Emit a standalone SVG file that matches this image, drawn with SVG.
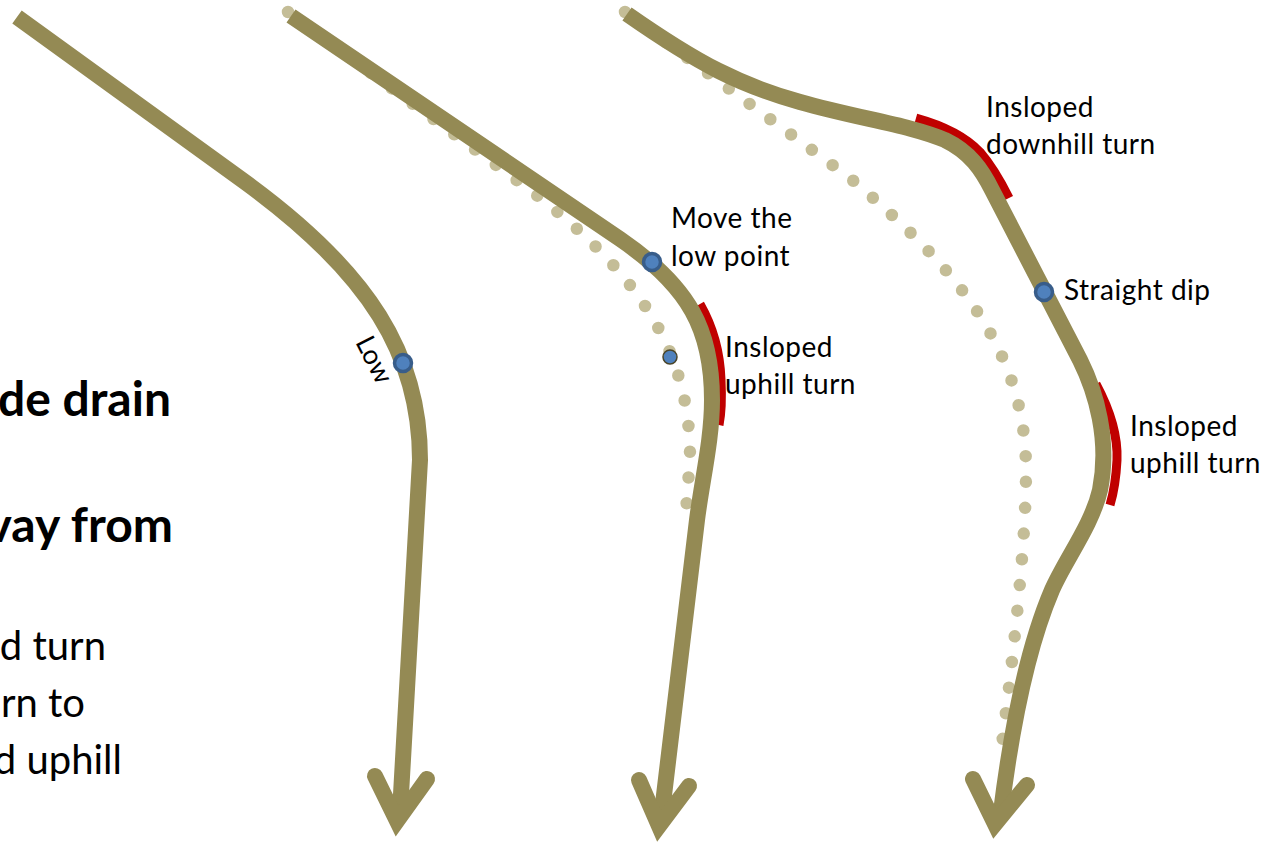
<svg xmlns="http://www.w3.org/2000/svg" width="1272" height="843" viewBox="0 0 1272 843">
<style>
.road{fill:none;stroke:#948A54;stroke-width:16;stroke-linecap:butt;stroke-linejoin:round}
.head{fill:none;stroke:#948A54;stroke-width:16;stroke-linecap:round;stroke-linejoin:miter;stroke-miterlimit:6}
.old{fill:none;stroke:#C4BD97;stroke-width:12.5;stroke-linecap:round;stroke-dasharray:0 25.8}
.insl{fill:none;stroke:#C00000;stroke-width:9;stroke-linecap:butt}
.pt{fill:#4F81BD;stroke:#385D8A;stroke-width:3.5}
.pt2{fill:#4F81BD;stroke:#4A452A;stroke-width:1.5}
.lbl{font-family:Lato,'Open Sans',sans-serif;font-size:28px;letter-spacing:0.5px;fill:#000}
.low{font-family:Lato,'Open Sans',sans-serif;font-size:27px;fill:#000}
.big{font-family:Lato,'Open Sans',sans-serif;font-size:48px;font-weight:bold;fill:#000}
.mid{font-family:Lato,'Open Sans',sans-serif;font-size:40px;fill:#000}
</style>
<rect width="1272" height="843" fill="#fff"/>
<g id="side-text">
<text class="big" x="171" y="416" text-anchor="end">de drain</text>
<text class="big" x="173" y="542" text-anchor="end">vay from</text>
<text class="mid" x="106" y="660" text-anchor="end">d turn</text>
<text class="mid" x="85" y="717" text-anchor="end">rn to</text>
<text class="mid" x="122" y="774" text-anchor="end">d uphill</text>
</g>
<g id="connectors">
<path class="old" d="M288,12 L515,179 C640,270 690,352 690,457 L686,512"/>
<path class="old" d="M625,12 L850,178 C950,263 1026,345 1026,470 C1026,530 1018,620 1000,760"/>
<path class="insl" d="M700,304 C712,325 720,350 721,380 C722,400 721,415 719,425"/>
<path class="insl" d="M916,118 C945,126 965,136 980,152 C992,166 1000,180 1009,198"/>
<path class="insl" d="M1096,384 C1110,410 1118,435 1117,460 C1116,480 1113,495 1110,505"/>
<path id="road-low" class="road" d="M17,17 L245,182 C370,273 420,355 420,460 L400,812"/>
<path class="head" d="M375,776 L397,821 L427,779"/>
<path id="road-move" class="road" d="M291,16 L620,239 C690,287 712,330 712,400 C712,440 702,480 697,520 L662,812"/>
<path class="head" d="M639,780 L659,826 L689,786"/>
<path id="road-dip" class="road" d="M627,14 C700,65 740,85 800,102 C860,119 910,125 945,140 C970,152 982,170 992,190 L1080,360 C1096,392 1110,440 1100,490 C1092,525 1065,560 1052,590 C1034,632 1015,700 1001,812"/>
<path class="head" d="M973,779 L995,824 L1027,785"/>
</g>
<g id="node-low">
<circle class="pt" cx="403" cy="363" r="8.5"/>
<text class="low" transform="translate(355,342) rotate(63)">Low</text>
</g>
<g id="node-move">
<circle class="pt" cx="652" cy="262" r="8.5"/>
<circle class="pt2" cx="670" cy="357" r="7"/>
<text class="lbl" x="671" y="228">Move the</text>
<text class="lbl" x="671" y="266">low point</text>
</g>
<g id="node-uphill1">
<text class="lbl" x="725" y="357">Insloped</text>
<text class="lbl" x="725" y="394">uphill turn</text>
</g>
<g id="node-downhill">
<text class="lbl" x="986" y="117">Insloped</text>
<text class="lbl" x="986" y="154">downhill turn</text>
</g>
<g id="node-dip">
<circle class="pt" cx="1044" cy="292" r="8.5"/>
<text class="lbl" x="1064" y="300">Straight dip</text>
</g>
<g id="node-uphill2">
<text class="lbl" x="1130" y="436">Insloped</text>
<text class="lbl" x="1130" y="473">uphill turn</text>
</g>
</svg>
